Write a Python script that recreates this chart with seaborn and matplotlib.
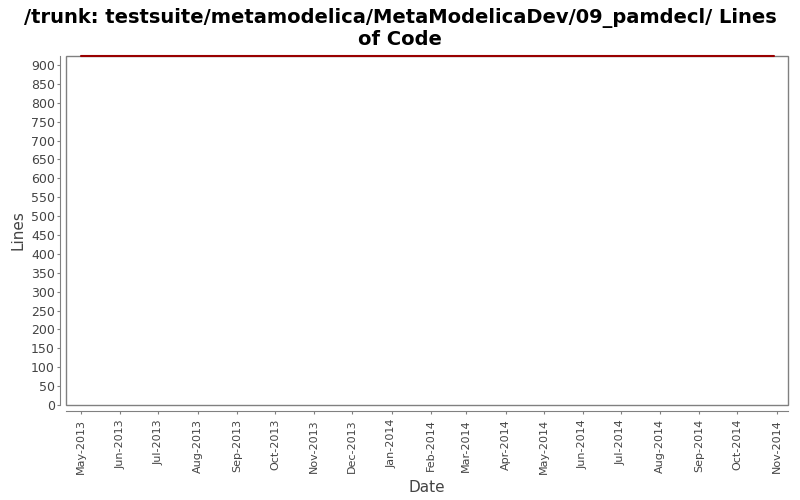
import pandas as pd
import matplotlib
matplotlib.use("Agg")
import matplotlib.pyplot as plt
import matplotlib.dates as mdates
from matplotlib.patches import Rectangle
import seaborn as sns

# lines of code over time (flat)
dates = ["2013-05-01", "2013-11-01", "2014-05-01", "2014-10-30"]
lines = [924, 924, 924, 924]
tick_months = pd.date_range("2013-05-01", "2014-11-01", freq="MS")

df = pd.DataFrame({"Date": pd.to_datetime(dates), "Lines": lines})

sns.set_style("white")
plt.rcParams['font.family'] = ['DejaVu Sans']

fig = plt.figure(figsize=(8, 5), dpi=100)
ax = fig.add_axes([0.0825, 0.19, 0.9025, 0.698])

gray = "#808080"
ax.add_patch(Rectangle((0, 0), 1, 1, transform=ax.transAxes, fill=False,
                       ec=gray, lw=1, clip_on=False, zorder=1))

sns.lineplot(x="Date", y="Lines", data=df, ax=ax, color="#990000",
             linewidth=1.5, zorder=5, clip_on=False)

ax.set_xlim(pd.Timestamp("2013-04-19"), pd.Timestamp("2014-11-10"))
ax.set_ylim(0, 924)
ax.set_yticks(range(0, 901, 50))
ax.set_xticks(tick_months)
ax.xaxis.set_major_formatter(mdates.DateFormatter("%b-%Y"))

for s in ["left", "bottom"]:
    ax.spines[s].set_position(("outward", 4))
    ax.spines[s].set_color(gray)
for s in ["top", "right"]:
    ax.spines[s].set_visible(False)

ax.tick_params(axis="both", which="major", length=2, color=gray,
               labelsize=9, labelcolor="#444444", pad=2, bottom=True, left=True)
ax.tick_params(axis="x", labelrotation=90, pad=4, labelsize=8)

ax.set_xlabel("Date", fontsize=11, color="#444444", labelpad=4)
ax.set_ylabel("Lines", fontsize=11, color="#444444")
fig.text(0.5, 0.985,
         "/trunk: testsuite/metamodelica/MetaModelicaDev/09_pamdecl/ Lines\nof Code",
         fontsize=14, fontweight="bold", ha="center", va="top", linespacing=1.15,
         color="black")

fig.savefig("out.png", dpi=100)
